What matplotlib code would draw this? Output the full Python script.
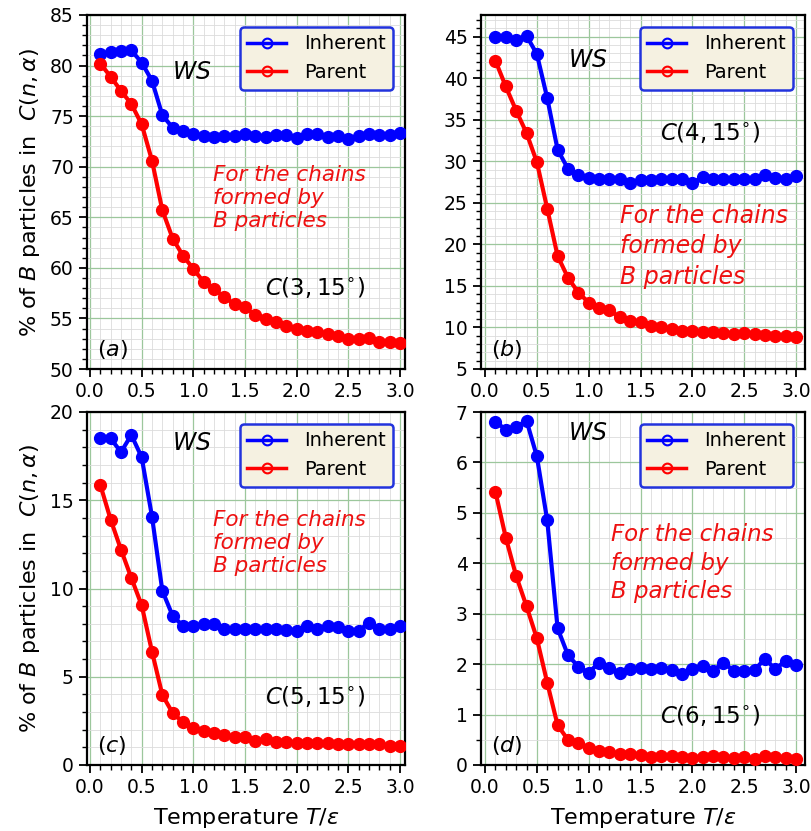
import numpy as np
import matplotlib
matplotlib.use("Agg")
import matplotlib.pyplot as plt
from matplotlib.lines import Line2D
from matplotlib.ticker import MultipleLocator

T = [round(0.1 * i, 1) for i in range(1, 31)]

inh_a = [81.1, 81.3, 81.4, 81.5, 80.3, 78.5, 75.1, 73.85, 73.5, 73.2,
         73.0, 72.9, 73.0, 73.0, 73.2, 73.0, 72.9, 73.1, 73.1, 72.8,
         73.2, 73.2, 72.9, 73.0, 72.7, 73.0, 73.2, 73.1, 73.1, 73.3]
par_a = [80.2, 78.9, 77.5, 76.2, 74.2, 70.6, 65.7, 62.9, 61.2, 59.9,
         58.6, 57.9, 57.1, 56.4, 56.1, 55.3, 54.9, 54.6, 54.3, 54.0,
         53.8, 53.7, 53.5, 53.3, 53.0, 53.0, 53.1, 52.7, 52.7, 52.6]

inh_b = [44.9, 44.9, 44.6, 45.1, 42.9, 37.6, 31.4, 29.1, 28.4, 28.0,
         27.9, 27.85, 27.85, 27.4, 27.75, 27.75, 27.85, 27.9, 27.85, 27.4,
         28.1, 27.9, 27.85, 27.85, 27.85, 27.9, 28.3, 28.0, 27.9, 28.2]
par_b = [42.1, 39.0, 36.1, 33.4, 29.9, 24.3, 18.6, 16.0, 14.2, 13.0,
         12.4, 12.1, 11.2, 10.8, 10.6, 10.2, 10.1, 9.8, 9.6, 9.6,
         9.4, 9.4, 9.3, 9.2, 9.3, 9.2, 9.1, 9.0, 9.0, 8.9]

inh_c = [18.5, 18.5, 17.73, 18.7, 17.44, 14.07, 9.87, 8.45, 7.88, 7.87,
         8.0, 8.0, 7.7, 7.7, 7.7, 7.7, 7.7, 7.7, 7.65, 7.6,
         7.87, 7.72, 7.87, 7.8, 7.62, 7.62, 8.05, 7.72, 7.72, 7.9]
par_c = [15.87, 13.9, 12.2, 10.6, 9.05, 6.42, 3.97, 2.94, 2.43, 2.1,
         1.91, 1.82, 1.69, 1.6, 1.6, 1.38, 1.45, 1.31, 1.28, 1.26,
         1.27, 1.26, 1.26, 1.2, 1.2, 1.2, 1.2, 1.17, 1.08, 1.08]

inh_d = [6.81, 6.65, 6.7, 6.83, 6.12, 4.85, 2.71, 2.18, 1.95, 1.83,
         2.03, 1.93, 1.82, 1.91, 1.93, 1.9, 1.93, 1.88, 1.8, 1.9,
         1.97, 1.87, 2.03, 1.87, 1.87, 1.88, 2.11, 1.9, 2.07, 1.98]
par_d = [5.42, 4.51, 3.75, 3.15, 2.51, 1.63, 0.79, 0.5, 0.43, 0.33,
         0.27, 0.25, 0.21, 0.22, 0.2, 0.15, 0.17, 0.18, 0.15, 0.13,
         0.15, 0.17, 0.15, 0.13, 0.15, 0.11, 0.17, 0.15, 0.13, 0.11]

panels = [
    dict(inh=inh_a, par=par_a, ylim=(50, 85), major=5, minor=1, label="(a)", n=3,
         pos=(87, 15, 405, 369), xlim=(-0.029, 3.048), ws=(0.267, 0.839),
         chains=(0.396, 0.483, 1.2, 15.5), cname=(0.56, 0.229)),
    dict(inh=inh_b, par=par_b, ylim=(5, 47.6), major=5, minor=1, label="(b)", n=4,
         pos=(481, 15, 805, 369), xlim=(-0.039, 3.087), ws=(0.27, 0.873),
         chains=(0.429, 0.347, 1.35, 17.0), cname=(0.552, 0.667)),
    dict(inh=inh_c, par=par_c, ylim=(0, 20), major=5, minor=1, label="(c)", n=5,
         pos=(87, 412, 405, 765), xlim=(-0.029, 3.048), ws=(0.267, 0.912),
         chains=(0.396, 0.629, 1.2, 15.5), cname=(0.56, 0.193)),
    dict(inh=inh_d, par=par_d, ylim=(0, 7), major=1, minor=0.5, label="(d)", n=6,
         pos=(481, 412, 805, 765), xlim=(-0.039, 3.087), ws=(0.27, 0.94),
         chains=(0.40, 0.572, 1.32, 16.5), cname=(0.552, 0.139)),
]

W, H = 811, 831
fig = plt.figure(figsize=(W / 100, H / 100), dpi=100)

for i, p in enumerate(panels):
    x0, y0, x1, y1 = p["pos"]
    ax = fig.add_axes([x0 / W, 1 - y1 / H, (x1 - x0) / W, (y1 - y0) / H])
    ax.plot(T, p["inh"], color="#0000ff", lw=3, marker="o", ms=8.5, zorder=3)
    ax.plot(T, p["par"], color="#ff0000", lw=3, marker="o", ms=8.5, zorder=3)
    ax.set_xlim(*p["xlim"])
    ax.set_ylim(*p["ylim"])
    ax.xaxis.set_major_locator(MultipleLocator(0.5))
    ax.xaxis.set_minor_locator(MultipleLocator(0.1))
    ax.yaxis.set_major_locator(MultipleLocator(p["major"]))
    ax.yaxis.set_minor_locator(MultipleLocator(p["minor"]))
    ax.grid(which="major", color="#9cc79c", lw=0.9, zorder=0)
    ax.grid(which="minor", color="#dcdcdc", lw=0.6, zorder=0)
    ax.set_axisbelow(True)
    ax.tick_params(which="major", direction="out", length=6, width=1.3, labelsize=13.5)
    ax.tick_params(which="minor", direction="out", length=3.5, width=1.0)
    for s in ax.spines.values():
        s.set_linewidth(1.6)
    ax.xaxis.set_major_formatter(matplotlib.ticker.FormatStrFormatter("%.1f"))

    ax.text(p["ws"][0], p["ws"][1], r"$WS$", transform=ax.transAxes,
            fontsize=17, ha="left", va="center")
    ax.text(p["chains"][0], p["chains"][1], "For the chains\nformed by\nB particles",
            transform=ax.transAxes, fontsize=p["chains"][3], color="#ee1111", style="italic",
            ha="left", va="center", linespacing=p["chains"][2])
    ax.text(p["cname"][0], p["cname"][1], r"$C(%d,15^{\circ})$" % p["n"],
            transform=ax.transAxes, fontsize=16.5, ha="left", va="center")
    ax.text(0.03, 0.055, r"$%s$" % p["label"], transform=ax.transAxes,
            fontsize=16, ha="left", va="center")

    handles = [Line2D([], [], color="#0000ff", lw=2.5, marker="o", ms=7, mfc="none", mew=1.5),
               Line2D([], [], color="#ff0000", lw=2.5, marker="o", ms=7, mfc="none", mew=1.5)]
    leg = ax.legend(handles, ["Inherent", "Parent"], loc="upper right", fontsize=14,
                    frameon=True, fancybox=True, borderpad=0.4, handlelength=2.0,
                    handletextpad=0.9, borderaxespad=0.6, bbox_to_anchor=(1.0, 1.0))
    leg.get_frame().set_facecolor("#f5f1e1")
    leg.get_frame().set_edgecolor("#2233dd")
    leg.get_frame().set_linewidth(1.8)
    leg.get_frame().set_alpha(1.0)

    if i % 2 == 0:
        ax.set_ylabel(r"% of $B$ particles in  $C(n,\alpha)$", fontsize=16, labelpad=6)
    if i >= 2:
        ax.set_xlabel(r"Temperature $T/\epsilon$", fontsize=16, labelpad=6)

fig.savefig("out.png", dpi=100)
